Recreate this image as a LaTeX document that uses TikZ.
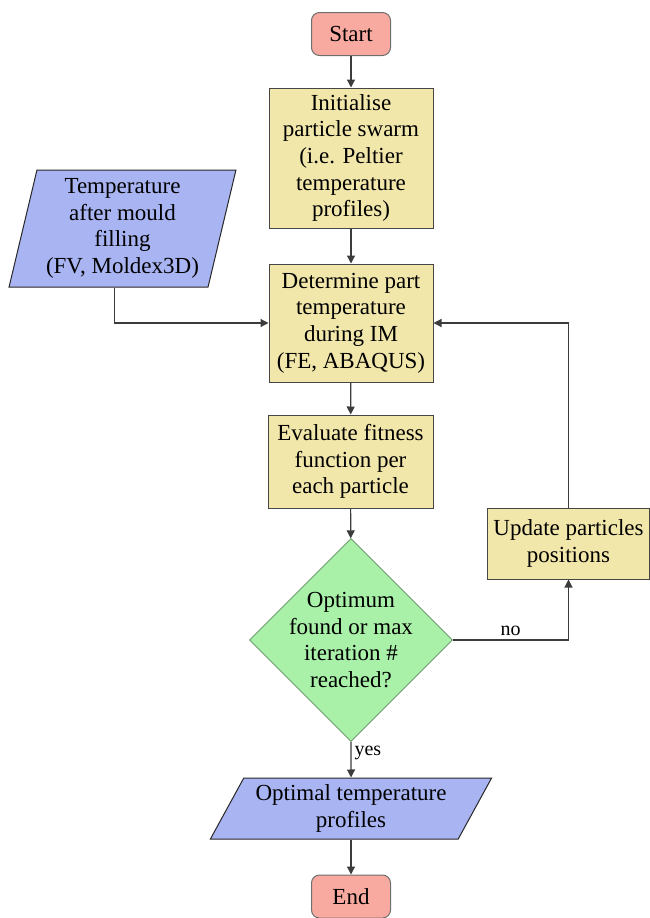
\documentclass[tikz,border=0pt]{standalone}
\usepackage{fontspec}
\setmainfont{Liberation Serif}
\usetikzlibrary{shapes.geometric,arrows.meta}

\definecolor{termfill}{RGB}{249,170,160}
\definecolor{termline}{RGB}{110,110,110}
\definecolor{procfill}{RGB}{242,231,171}
\definecolor{procline}{RGB}{70,70,70}
\definecolor{datafill}{RGB}{169,180,242}
\definecolor{dataline}{RGB}{40,40,40}
\definecolor{decfill}{RGB}{169,241,169}
\definecolor{decline}{RGB}{95,140,95}
\definecolor{flowline}{RGB}{60,60,60}

\tikzset{
    terminal/.style={draw=termline, fill=termfill, rounded corners=8pt, minimum width=79pt, minimum height=43pt, inner sep=0pt, line width=1pt},
    process/.style={draw=procline, fill=procfill, align=center, inner sep=0pt, line width=1pt},
    data/.style={trapezium, trapezium stretches=true, draw=dataline, fill=datafill, align=center, inner sep=0pt, line width=1pt},
    decision/.style={diamond, draw=decline, fill=decfill, inner sep=0pt, minimum width=203pt, minimum height=203pt, line width=0.8pt},
    flow/.style={draw=flowline, line width=1.2pt, -{Triangle[length=8pt,width=8pt]}},
    lbl/.style={font=\fontsize{20}{24}\selectfont, inner sep=3pt}
}

\begin{document}
\begin{tikzpicture}[x=1pt, y=-1pt, font=\fontsize{23}{26.7}\selectfont]
    \useasboundingbox (0,0) rectangle (650,918);

    % Start and first step
    \node[terminal] (start) at (351,34) {Start};
    \node[process, minimum width=164pt, minimum height=140pt] (init) at (351,158)
        {Initialise\\particle swarm\\(i.e. Peltier\\temperature\\profiles)};

    % Input data from mould filling
    \node[data, trapezium left angle=76, trapezium right angle=104, minimum width=227pt, minimum height=117pt] (temp) at (122.5,228.5)
        {Temperature\\after mould\\filling\\(FV, Moldex3D)};

    % Simulation and fitness
    \node[process, minimum width=164pt, minimum height=118pt] (det) at (351,323)
        {Determine part\\temperature\\during IM\\(FE, ABAQUS)};
    \node[process, minimum width=165pt, minimum height=93pt] (eval) at (350.5,461.5)
        {Evaluate fitness\\function per\\each particle};

    % Update step
    \node[process, minimum width=162pt, minimum height=71pt] (upd) at (568.5,543.5)
        {Update particles\\positions};

    % Stop check
    \node[decision] (dec) at (351,640) {};
    \node[align=center] (dectext) at (dec) {Optimum\\found or max\\iteration \#\\reached?};

    % Output and end
    \node[data, trapezium left angle=58, trapezium right angle=122, minimum width=282pt, minimum height=61pt] (opt) at (351,808.5)
        {Optimal temperature\\profiles};
    \node[terminal] (end) at (351,896.5) {End};

    % Connectors
    \draw[flow] (start) -- (init);
    \draw[flow] (init) -- (det);
    \draw[flow] ([xshift=-8pt]temp.south) |- (det.west);
    \draw[flow] (det) -- (eval);
    \draw[flow] (eval) -- (dec);
    \draw[flow] (dec.east) -| node[lbl, pos=0.25, above=1pt] {no} (upd.south);
    \draw[flow] (upd.north) |- (det.east);
    \draw[flow] (dec.south) -- node[lbl, pos=0.3, right] {yes} (opt.north);
    \draw[flow] (opt) -- (end);
\end{tikzpicture}
\end{document}
